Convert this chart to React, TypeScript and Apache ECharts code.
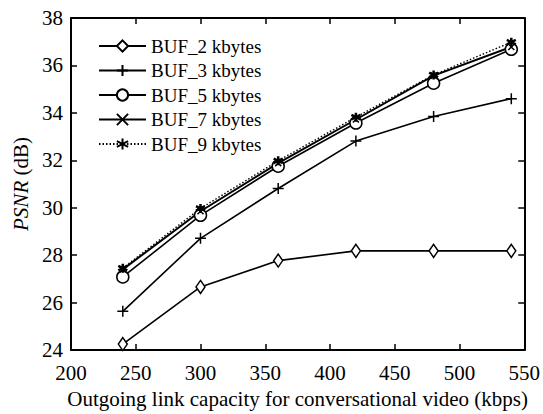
import React, { useEffect, useRef } from "react";
import * as echarts from "echarts";

const capacities = [240, 300, 360, 420, 480, 540];
const buf2 = [24.25, 26.66, 27.77, 28.18, 28.18, 28.18];
const buf3 = [25.63, 28.71, 30.81, 32.81, 33.85, 34.6];
const buf5 = [27.08, 29.68, 31.75, 33.57, 35.25, 36.68];
const buf7 = [27.4, 29.85, 31.88, 33.72, 35.57, 36.78];
const buf9 = [27.45, 29.97, 31.98, 33.82, 35.6, 36.98];
const seriesNames = ["BUF_2 kbytes", "BUF_3 kbytes", "BUF_5 kbytes", "BUF_7 kbytes", "BUF_9 kbytes"];

const FONT = "'Liberation Serif', 'Times New Roman', serif";

export default function App() {
  const ref = useRef<HTMLDivElement>(null);
  useEffect(() => {
    if (!ref.current) return;
    const chart = echarts.init(ref.current, null, { renderer: "svg" });
    const pair = (vals: number[]) => capacities.map((c, i) => [c, vals[i]]);
    const base = {
      type: "line",
      color: "#000",
      lineStyle: { color: "#000", width: 1.6 },
      itemStyle: { color: "#fff", borderColor: "#000", borderWidth: 1.5 },
      xAxisIndex: 0,
      yAxisIndex: 0,
    };
    chart.setOption({
      animation: false,
      backgroundColor: "#fff",
      textStyle: { fontFamily: FONT, color: "#000" },
      grid: { left: 71, right: 18, top: 18, bottom: 58 },
      legend: {
        orient: "vertical",
        left: 93,
        top: 31,
        itemWidth: 47,
        itemHeight: 14,
        itemGap: 4.5,
        data: seriesNames,
        textStyle: { fontFamily: FONT, fontSize: 19, color: "#000", lineHeight: 20 },
      },
      xAxis: [
        {
          type: "value",
          min: 200,
          max: 550,
          interval: 50,
          position: "bottom",
          name: "Outgoing link capacity for conversational video (kbps)",
          nameLocation: "middle",
          nameGap: 38,
          nameTextStyle: { fontFamily: FONT, fontSize: 21, color: "#000" },
          axisLine: { show: true, lineStyle: { color: "#000", width: 2 } },
          axisTick: { show: true, inside: true, length: 6, lineStyle: { color: "#000", width: 1.5 } },
          axisLabel: { fontFamily: FONT, fontSize: 21, color: "#000", margin: 12 },
          splitLine: { show: false },
        },
        {
          type: "value",
          min: 200,
          max: 550,
          interval: 50,
          position: "top",
          axisLine: { show: true, lineStyle: { color: "#000", width: 2 } },
          axisTick: { show: true, inside: true, length: 6, lineStyle: { color: "#000", width: 1.5 } },
          axisLabel: { show: false },
          splitLine: { show: false },
        },
      ],
      yAxis: [
        {
          type: "value",
          min: 24,
          max: 38,
          interval: 2,
          position: "left",
          name: "{i|PSNR} (dB)",
          nameLocation: "middle",
          nameGap: 40,
          nameRotate: 90,
          nameTextStyle: {
            fontFamily: FONT,
            fontSize: 21,
            color: "#000",
            rich: { i: { fontFamily: FONT, fontSize: 21, fontStyle: "italic", color: "#000" } },
          },
          axisLine: { show: true, lineStyle: { color: "#000", width: 2 } },
          axisTick: { show: true, inside: true, length: 6, lineStyle: { color: "#000", width: 1.5 } },
          axisLabel: { fontFamily: FONT, fontSize: 21, color: "#000", margin: 8 },
          splitLine: { show: false },
        },
        {
          type: "value",
          min: 24,
          max: 38,
          interval: 2,
          position: "right",
          axisLine: { show: true, lineStyle: { color: "#000", width: 2 } },
          axisTick: { show: true, inside: true, length: 6, lineStyle: { color: "#000", width: 1.5 } },
          axisLabel: { show: false },
          splitLine: { show: false },
        },
      ],
      series: [
        {
          ...base,
          name: seriesNames[0],
          data: pair(buf2),
          symbol: "diamond",
          symbolSize: [9, 13],
        },
        {
          ...base,
          name: seriesNames[1],
          data: pair(buf3),
          symbol: "path://M0,-1L0,1M-1,0L1,0",
          symbolSize: 11,
          itemStyle: { color: "#000", borderColor: "#000", borderWidth: 1.5 },
        },
        {
          ...base,
          name: seriesNames[2],
          data: pair(buf5),
          symbol: "circle",
          symbolSize: 12,
        },
        {
          ...base,
          name: seriesNames[3],
          data: pair(buf7),
          symbol: "path://M-1,-1L1,1M-1,1L1,-1",
          symbolSize: 6,
          lineStyle: { color: "#000", width: 2 },
          itemStyle: { color: "#000", borderColor: "#000", borderWidth: 1.5 },
        },
        {
          ...base,
          name: seriesNames[4],
          data: pair(buf9),
          symbol: "path://M0,-1L0,1M-0.87,-0.5L0.87,0.5M-0.87,0.5L0.87,-0.5",
          symbolSize: 9,
          lineStyle: { color: "#000", width: 1.4, type: [1.5, 2] },
          itemStyle: { color: "#000", borderColor: "#000", borderWidth: 2.5 },
        },
      ],
    });
    return () => chart.dispose();
  }, []);
  return <div ref={ref} style={{ width: 543, height: 414, position: "absolute", left: 0, top: 0 }} />;
}
